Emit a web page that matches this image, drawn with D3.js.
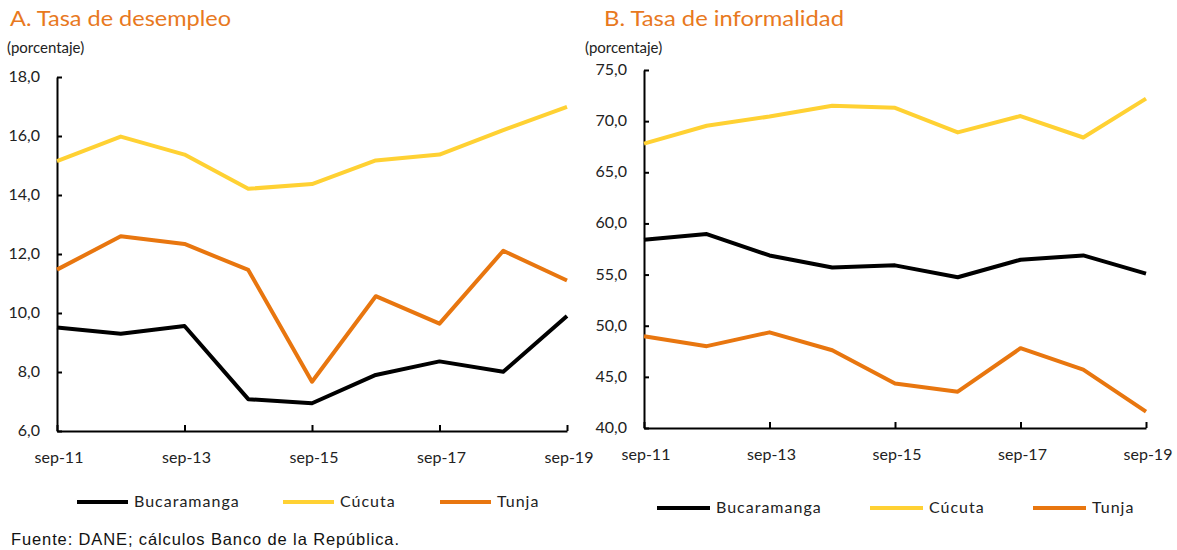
<!DOCTYPE html>
<html><head><meta charset="utf-8">
<script src="https://cdn.jsdelivr.net/npm/d3@7"></script>
<style>body{margin:0;background:#fff}svg{display:block}</style>
</head><body><svg id="c" width="1177" height="550"></svg>
<script>
const periods = ["sep-11","sep-12","sep-13","sep-14","sep-15","sep-16","sep-17","sep-18","sep-19"];
const tickPeriods = ["sep-11","sep-13","sep-15","sep-17","sep-19"];
const seriesNames = ["Bucaramanga","Cúcuta","Tunja"];
const colors = ["#000000","#FFD133","#E8760F"];

const desempleoBucaramanga = [9.51,9.30,9.56,7.08,6.94,7.90,8.36,8.01,9.90];
const desempleoCucuta      = [15.15,15.98,15.37,14.21,14.37,15.17,15.37,16.2,16.99];
const desempleoTunja       = [11.47,12.60,12.34,11.46,7.67,10.57,9.64,12.11,11.10];
const desempleoTicks = [6,8,10,12,14,16,18];

const informalBucaramanga = [58.4,58.96,56.87,55.7,55.9,54.74,56.45,56.87,55.1];
const informalCucuta      = [67.8,69.55,70.45,71.5,71.3,68.9,70.5,68.4,72.2];
const informalTunja       = [48.97,48.0,49.35,47.6,44.35,43.55,47.8,45.7,41.6];
const informalTicks = [40,45,50,55,60,65,70,75];

const svg = d3.select("#c");
const fmt = v => d3.format(".1f")(v).replace(".", ",");
const titleColor = "#E8791E";
const font = "Lato, 'Open Sans', sans-serif";

function panel(cfg){
  const g = svg.append("g");
  const x = d3.scalePoint().domain(periods).range([cfg.x0, cfg.x1]);
  const y = d3.scaleLinear().domain(cfg.domain).range([cfg.yb, cfg.yt]);
  g.append("text").attr("x", cfg.tx).attr("y", 26).text(cfg.title)
    .attr("fill", titleColor).attr("font-family", font).attr("font-size", 22)
    .attr("textLength", cfg.titleLen).attr("lengthAdjust","spacingAndGlyphs");
  g.append("text").attr("x", cfg.px).attr("y", 53).text("(porcentaje)")
    .attr("fill", "#222").attr("font-family", font).attr("font-size", 15);

  const ya = g.append("g").attr("transform", `translate(${cfg.x0},0)`)
    .call(d3.axisRight(y).tickValues(cfg.ticks).tickFormat("").tickSize(5).tickSizeOuter(0));
  ya.select(".domain").attr("stroke", "#000").attr("stroke-width", 2);
  ya.selectAll(".tick line").attr("stroke","#000").attr("stroke-width",2);
  g.selectAll(".ylab").data(cfg.ticks).join("text")
    .attr("x", cfg.x0 - 17).attr("y", d => y(d) + 5).attr("text-anchor","end")
    .text(fmt).attr("fill","#222").attr("font-family", font).attr("font-size", 16);

  const xa = g.append("g").attr("transform", `translate(0,${cfg.yb})`)
    .call(d3.axisTop(x).tickValues(tickPeriods).tickFormat("").tickSize(6).tickSizeOuter(0));
  xa.select(".domain").attr("stroke", "#000").attr("stroke-width", 2);
  xa.selectAll(".tick line").attr("stroke","#000").attr("stroke-width",2);
  g.selectAll(".xlab").data(tickPeriods).join("text")
    .attr("x", d => x(d) + 2).attr("y", cfg.yb + 32).attr("text-anchor","middle")
    .text(d => d).attr("fill","#222").attr("font-family", font).attr("font-size", 16);

  const line = d3.line().x((d,i) => x(periods[i])).y(d => y(d));
  cfg.series.forEach((s, k) => {
    g.append("path").datum(s).attr("d", line).attr("fill","none")
      .attr("stroke", colors[k]).attr("stroke-width", 4).attr("stroke-linejoin","round");
  });
  seriesNames.forEach((n, k) => {
    const lx = cfg.legX[k];
    g.append("line").attr("x1", lx).attr("x2", lx + cfg.legW).attr("y1", cfg.legY).attr("y2", cfg.legY)
      .attr("stroke", colors[k]).attr("stroke-width", 4);
    g.append("text").attr("x", lx + cfg.legW + 6).attr("y", cfg.legY + 5).text(n)
      .attr("fill","#222").attr("font-family", font).attr("font-size", 16)
      .attr("letter-spacing", 1);
  });
}

panel({title:"A. Tasa de desempleo", tx:10, titleLen:221, px:7, x0:57, x1:567, yt:77, yb:431,
  domain:[6,18], ticks:desempleoTicks,
  series:[desempleoBucaramanga, desempleoCucuta, desempleoTunja],
  legX:[77,283,440], legW:51, legY:502});
panel({title:"B. Tasa de informalidad", tx:604, titleLen:240, px:585, x0:644, x1:1146, yt:70, yb:428,
  domain:[40,75], ticks:informalTicks,
  series:[informalBucaramanga, informalCucuta, informalTunja],
  legX:[657,870,1033], legW:53, legY:508});

svg.append("text").attr("x", 11).attr("y", 545).text("Fuente: DANE; cálculos Banco de la República.")
  .attr("fill","#111").attr("font-family","'Liberation Sans', Arial, sans-serif").attr("font-size", 16.5)
  .attr("textLength", 388).attr("lengthAdjust","spacing");
</script></body></html>
